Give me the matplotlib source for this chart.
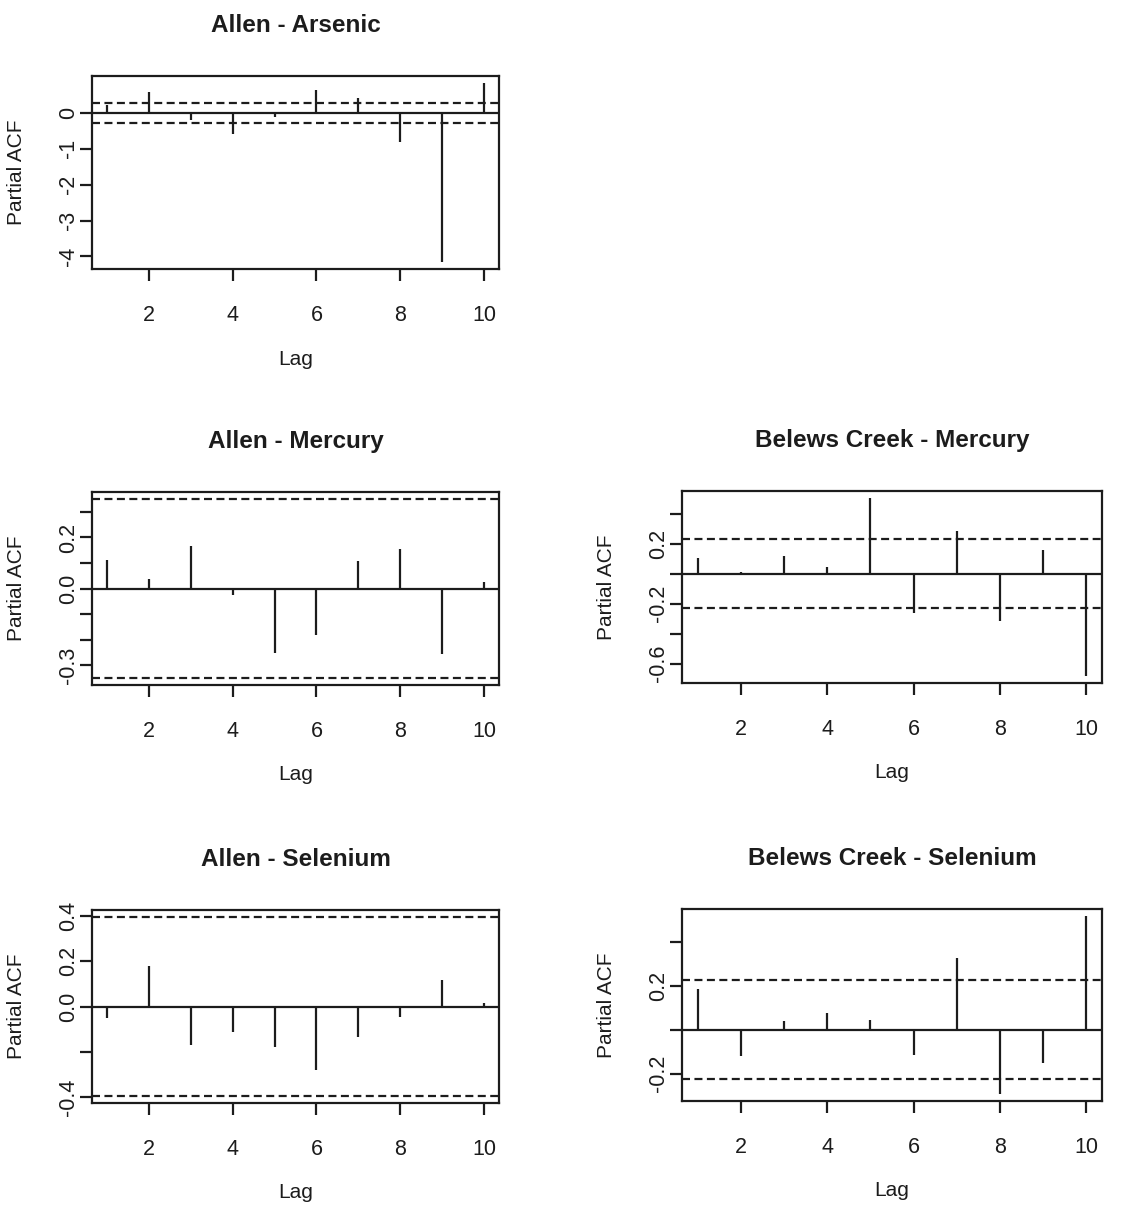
import numpy as np
import matplotlib
matplotlib.use("Agg")
import matplotlib.pyplot as plt
import matplotlib.transforms as mtransforms

plt.rcParams['font.family'] = ['Liberation Sans', 'DejaVu Sans']

# --- partial autocorrelations, lags 1..10 ---
lags = [1, 2, 3, 4, 5, 6, 7, 8, 9, 10]

allen_arsenic = [0.21, 0.58, -0.20, -0.60, -0.12, 0.64, 0.41, -0.80, -4.15, 0.83]
allen_mercury = [0.11, 0.036, 0.167, -0.024, -0.254, -0.184, 0.108, 0.154, -0.258, 0.025]
allen_selenium = [-0.051, 0.18, -0.169, -0.113, -0.176, -0.279, -0.132, -0.047, 0.117, 0.015]
belews_mercury = [0.106, 0.013, 0.121, 0.044, 0.506, -0.264, 0.288, -0.317, 0.161, -0.682]
belews_selenium = [0.185, -0.12, 0.041, 0.075, 0.045, -0.117, 0.327, -0.293, -0.153, 0.518]

# 95% bounds drawn as dashed lines
ci_allen_arsenic = 0.29
ci_allen_mercury = 0.35
ci_allen_selenium = 0.393
ci_belews_mercury = 0.23
ci_belews_selenium = 0.227

titles = ['Allen - Arsenic', 'Allen - Mercury', 'Allen - Selenium',
          'Belews Creek - Mercury', 'Belews Creek - Selenium']

# y ticks and which labels survive (R drops overlapping labels)
yticks_arsenic = [0, -1, -2, -3, -4]
ylabels_arsenic = ['0', '-1', '-2', '-3', '-4']
yticks_allen_hg = [-0.3, -0.2, -0.1, 0.0, 0.1, 0.2, 0.3]
ylabels_allen_hg = ['-0.3', '', '', '0.0', '', '0.2', '']
yticks_allen_se = [-0.4, -0.2, 0.0, 0.2, 0.4]
ylabels_allen_se = ['-0.4', '', '0.0', '0.2', '0.4']
yticks_belews_hg = [-0.6, -0.4, -0.2, 0.0, 0.2, 0.4]
ylabels_belews_hg = ['-0.6', '', '-0.2', '', '0.2', '']
yticks_belews_se = [-0.2, 0.0, 0.2, 0.4]
ylabels_belews_se = ['-0.2', '', '0.2', '']

xticks = [2, 4, 6, 8, 10]

W, H = 1121, 1207
DPI = 100
INK = '#1c1c1c'
LW = 1.6

fig = plt.figure(figsize=(W / DPI, H / DPI), dpi=DPI)
fig.patch.set_facecolor('white')


def px_axes(left, top, right, bottom):
    return fig.add_axes([left / W, 1 - bottom / H, (right - left) / W, (bottom - top) / H])


def pacf_panel(ax, vals, ci, title, yt, ytl):
    vals = np.asarray(vals)
    ax.vlines(lags, 0, vals, color=INK, lw=LW)
    ax.axhline(0, color=INK, lw=LW)
    for c in (ci, -ci):
        ax.axhline(c, color=INK, lw=LW, linestyle=(0, (3.6, 2)))
    # R style 4% padding around data and bounds
    lo = min(vals.min(), -ci)
    hi = max(vals.max(), ci)
    pad = 0.04 * (hi - lo)
    ax.set_ylim(lo - pad, hi + pad)
    ax.set_xlim(1 - 0.36, 10 + 0.36)
    ax.set_xticks(xticks)
    ax.set_xticklabels([str(t) for t in xticks])
    ax.set_yticks(yt)
    ax.set_yticklabels(ytl, rotation=90, va='center')
    ax.tick_params(axis='both', direction='out', length=8.6, width=LW, color=INK,
                   labelsize=15.5, labelcolor=INK)
    ax.tick_params(axis='x', pad=17)
    ax.tick_params(axis='y', pad=1)
    for s in ax.spines.values():
        s.set_linewidth(LW)
        s.set_color(INK)
    ax.set_title(title, fontsize=17.5, fontweight='bold', color=INK, pad=32)
    ax.set_xlabel('Lag', fontsize=15, color=INK, va='center')
    ax.set_ylabel('Partial ACF', fontsize=15, color=INK, va='center')
    off_x = mtransforms.ScaledTranslation(0, -90 / DPI, fig.dpi_scale_trans)
    ax.xaxis.set_label_coords(0.5, 0, transform=ax.transAxes + off_x)
    off_y = mtransforms.ScaledTranslation(-75 / DPI, 0, fig.dpi_scale_trans)
    ax.yaxis.set_label_coords(0, 0.5, transform=ax.transAxes + off_y)


ax1 = px_axes(92, 76, 499, 269)
pacf_panel(ax1, allen_arsenic, ci_allen_arsenic, titles[0], yticks_arsenic, ylabels_arsenic)

ax2 = px_axes(92, 492, 499, 685)
pacf_panel(ax2, allen_mercury, ci_allen_mercury, titles[1], yticks_allen_hg, ylabels_allen_hg)

ax3 = px_axes(92, 910, 499, 1103)
pacf_panel(ax3, allen_selenium, ci_allen_selenium, titles[2], yticks_allen_se, ylabels_allen_se)

ax4 = px_axes(682, 491, 1102, 683)
pacf_panel(ax4, belews_mercury, ci_belews_mercury, titles[3], yticks_belews_hg, ylabels_belews_hg)

ax5 = px_axes(682, 909, 1102, 1101)
pacf_panel(ax5, belews_selenium, ci_belews_selenium, titles[4], yticks_belews_se, ylabels_belews_se)

fig.savefig('out.png', dpi=DPI, facecolor='white')
